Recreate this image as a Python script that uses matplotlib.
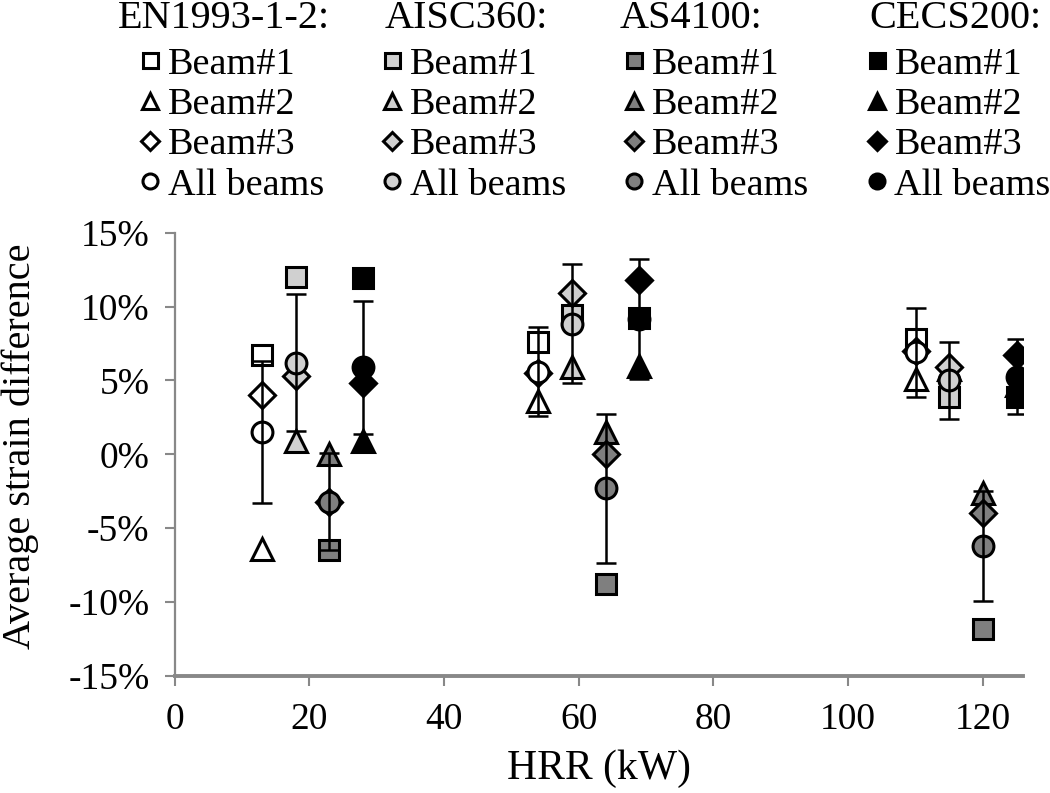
import matplotlib
matplotlib.use("Agg")
import matplotlib.pyplot as plt
from matplotlib.ticker import FuncFormatter

plt.rcParams['font.family'] = ['Liberation Serif', 'DejaVu Serif']
plt.rcParams['axes.unicode_minus'] = False

# ---- data (strain difference in %) ----
standards = ["EN1993-1-2:", "AISC360:", "AS4100:", "CECS200:"]
series_labels = ["Beam#1", "Beam#2", "Beam#3", "All beams"]

en_x = [13, 54, 110]
en_b1 = [6.75, 7.6, 7.8]
en_b2 = [-6.4, 3.6, 5.1]
en_b3 = [4.0, 5.5, 7.0]
en_all = [1.5, 5.6, 6.9]
en_err = [4.8, 3.0, 3.0]

aisc_x = [18, 59, 115]
aisc_b1 = [12.0, 9.4, 3.9]
aisc_b2 = [0.9, 5.9, 5.8]
aisc_b3 = [5.3, 10.9, 5.9]
aisc_all = [6.2, 8.85, 5.0]
aisc_err = [4.65, 4.05, 2.6]

as_x = [23, 64, 120]
as_b1 = [-6.5, -8.8, -11.8]
as_b2 = [0.0, 1.5, -2.6]
as_b3 = [-3.2, 0.0, -4.0]
as_all = [-3.2, -2.3, -6.2]
as_err = [3.3, 5.05, 3.7]

cecs_x = [28, 69, 125]
cecs_b1 = [11.9, 9.2, 3.9]
cecs_b2 = [0.9, 6.0, 4.7]
cecs_b3 = [4.8, 11.8, 6.7]
cecs_all = [5.9, 9.15, 5.25]
cecs_err = [4.5, 4.05, 2.55]

x_ticks = [0, 20, 40, 60, 80, 100, 120]
y_ticks = [-15, -10, -5, 0, 5, 10, 15]

# ---- styling ----
fills = ["#ffffff", "#d0d0d0", "#7f7f7f", "#000000"]
markers = ["s", "^", "D", "o"]
msizes = [15, 16, 13, 15]

groups = [
    (en_x, [en_b1, en_b2, en_b3, en_all], en_err),
    (aisc_x, [aisc_b1, aisc_b2, aisc_b3, aisc_all], aisc_err),
    (as_x, [as_b1, as_b2, as_b3, as_all], as_err),
    (cecs_x, [cecs_b1, cecs_b2, cecs_b3, cecs_all], cecs_err),
]

fig = plt.figure(figsize=(10.5, 7.93), dpi=100)
ax = fig.add_axes([0.1662, 0.1475, 0.8084, 0.5591])

handles = []
for gi, (xs, ys_list, err) in enumerate(groups):
    for si, ys in enumerate(ys_list):
        h, = ax.plot(xs, ys, linestyle="none", marker=markers[si],
                     markersize=msizes[si], markerfacecolor=fills[gi],
                     markeredgecolor="black", markeredgewidth=2.2,
                     label=series_labels[si], zorder=3 + si * 0.1)
        handles.append(h)
    ax.errorbar(xs, ys_list[3], yerr=err, fmt="none", ecolor="black",
                elinewidth=1.8, capsize=7.5, capthick=1.8, zorder=5)

ax.set_xlim(0, 126)
ax.set_ylim(-15, 15)
ax.set_xticks(x_ticks)
ax.set_yticks(y_ticks)
ax.yaxis.set_major_formatter(FuncFormatter(lambda v, p: f"{v:.0f}%"))

for s in ["top", "right"]:
    ax.spines[s].set_visible(False)
for s in ["left", "bottom"]:
    ax.spines[s].set_color("#888888")
    ax.spines[s].set_linewidth(1.6)
ax.spines["bottom"].set_linewidth(2.8)
ax.tick_params(axis="both", colors="#888888", width=1.5, length=7,
               labelsize=27, labelcolor="black")
ax.tick_params(axis="y", pad=11)
ax.tick_params(axis="x", pad=12)

ax.set_xlabel("HRR (kW)", fontsize=30, labelpad=9)
ax.set_ylabel("Average strain difference", fontsize=29)
ax.yaxis.set_label_coords(-0.160, 0.519)

leg = fig.legend(handles=handles, labels=[h.get_label() for h in handles],
                 ncol=4, loc="upper left", bbox_to_anchor=(0.1319, 0.941),
                 frameon=False, fontsize=27.5, handlelength=0.6,
                 handletextpad=0.17, columnspacing=1.48, labelspacing=0.147,
                 markerscale=0.72, borderpad=0, borderaxespad=0)

title_x = [0.1124, 0.3667, 0.5905, 0.828]
for tx, st in zip(title_x, standards):
    fig.text(tx, 0.977, st, fontsize=29, ha="left", va="center")

fig.savefig("out.png", dpi=100)
